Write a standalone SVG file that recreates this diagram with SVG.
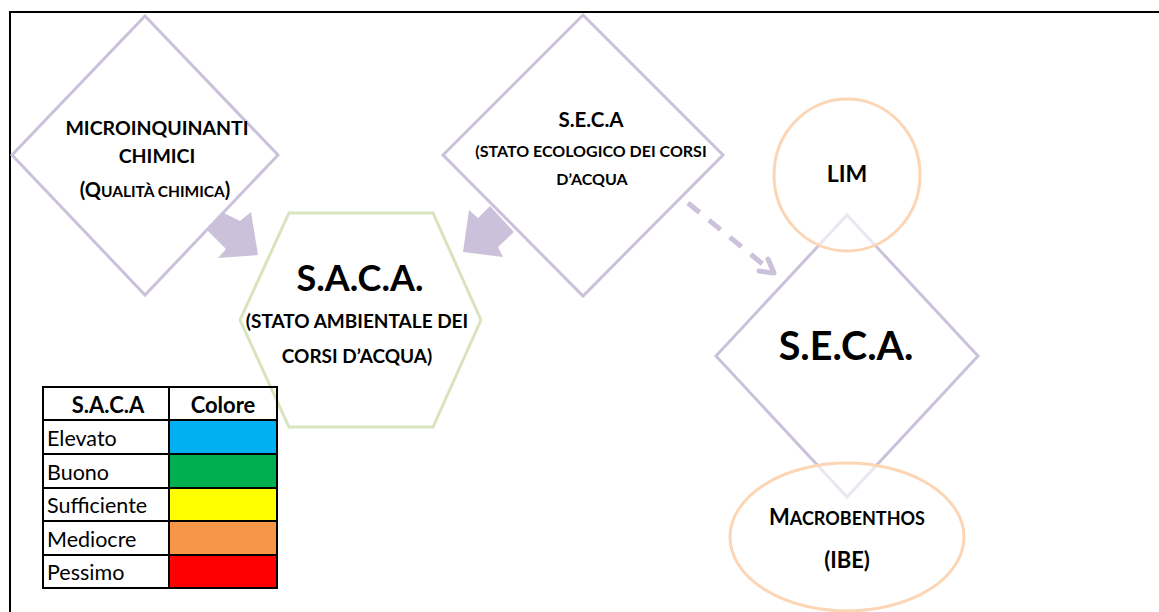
<svg xmlns="http://www.w3.org/2000/svg" width="1159" height="612" viewBox="0 0 1159 612">
  <style>
    .frame { stroke: #000; stroke-width: 2; fill: none; }
    .diamond { fill: #fff; stroke: #ccc1da; stroke-width: 3; }
    .hex { fill: #fff; stroke: #d7e4bd; stroke-width: 3; }
    .ring { fill: #fff; fill-opacity: 0.6; stroke: #fcd5b5; stroke-width: 3; }
    .block { fill: #ccc1da; }
    .dash { fill: none; stroke: #ccc1da; stroke-width: 5; stroke-dasharray: 15 12; }
    .head { fill: none; stroke: #ccc1da; stroke-width: 5; stroke-linecap: round; stroke-linejoin: round; }
    text { font-family: Lato, "Liberation Sans", sans-serif; fill: #000; text-anchor: middle; }
    .b { font-weight: bold; }
    .cell { stroke: #000; stroke-width: 2; }
    .lbl { text-anchor: start; font-size: 21.5px; }
  </style>

  <!-- page frame (top and left edges) -->
  <path class="frame" d="M10 612 V12 H1159"/>

  <!-- connectors -->
  <g id="connectors">
    <polygon class="block" points="222,212 240,221 251,212 258,255 218,258 226,249 207,230"/>
    <polygon class="block" points="490,206 514,232 498,247 503,257 463,252 469,210 478,218"/>
    <line class="dash" x1="688" y1="203" x2="770" y2="270"/>
    <polyline class="head" points="768,259 774,273 759,271"/>
  </g>

  <!-- MICROINQUINANTI CHIMICI -->
  <g id="node-micro">
    <polygon class="diamond" points="145,16 278,155 145,295 12,155"/>
    <text class="b" x="157" y="135" font-size="19.5">MICROINQUINANTI</text>
    <text class="b" x="157" y="163" font-size="19.5">CHIMICI</text>
    <text class="b" x="155" y="197" font-size="20">(Q<tspan font-size="15.5">UALITÀ CHIMICA</tspan>)</text>
  </g>

  <!-- S.E.C.A (upper) -->
  <g id="node-seca-top">
    <polygon class="diamond" points="583,15 723,155 583,296 443,155"/>
    <text class="b" x="591" y="127" font-size="20.5">S.E.C.A</text>
    <text class="b" x="591" y="157" font-size="16">(STATO ECOLOGICO DEI CORSI</text>
    <text class="b" x="592" y="185" font-size="16">D’ACQUA</text>
  </g>

  <!-- S.A.C.A. hexagon -->
  <g id="node-saca">
    <polygon class="hex" points="289,213 433,213 481,320 433,427 289,427 240,320"/>
    <text class="b" x="360" y="291" font-size="36">S.A.C.A.</text>
    <text class="b" x="357" y="328" font-size="19">(STATO AMBIENTALE DEI</text>
    <text class="b" x="357" y="363" font-size="19">CORSI D’ACQUA)</text>
  </g>

  <!-- S.E.C.A. (large) -->
  <g id="node-seca">
    <polygon class="diamond" points="847,215 978,356 847,497 716,356"/>
    <text class="b" x="846" y="360" font-size="39.5">S.E.C.A.</text>
  </g>

  <!-- LIM -->
  <g id="node-lim">
    <ellipse class="ring" cx="847" cy="175" rx="73" ry="76"/>
    <text class="b" x="847" y="182" font-size="23">LIM</text>
  </g>

  <!-- Macrobenthos (IBE) -->
  <g id="node-ibe">
    <ellipse class="ring" cx="847" cy="537" rx="117" ry="74"/>
    <text class="b" x="847" y="525" font-size="22">M<tspan font-size="18">ACROBENTHOS</tspan></text>
    <text class="b" x="847" y="568" font-size="22">(IBE)</text>
  </g>

  <!-- S.A.C.A colour legend -->
  <g id="legend">
    <rect x="169" y="420" width="108" height="34" fill="#00b0f0"/>
    <rect x="169" y="454" width="108" height="34" fill="#00b050"/>
    <rect x="169" y="488" width="108" height="33" fill="#ffff00"/>
    <rect x="169" y="521" width="108" height="34" fill="#f79646"/>
    <rect x="169" y="555" width="108" height="33" fill="#ff0000"/>
    <rect class="cell" x="43" y="387" width="234" height="201" fill="none"/>
    <line class="cell" x1="169" y1="387" x2="169" y2="588"/>
    <line class="cell" x1="43" y1="420" x2="277" y2="420"/>
    <line class="cell" x1="43" y1="454" x2="277" y2="454"/>
    <line class="cell" x1="43" y1="488" x2="277" y2="488"/>
    <line class="cell" x1="43" y1="521" x2="277" y2="521"/>
    <line class="cell" x1="43" y1="555" x2="277" y2="555"/>
    <text class="b" x="108" y="413" font-size="22">S.A.C.A</text>
    <text class="b" x="223" y="413" font-size="22">Colore</text>
    <text class="lbl" x="47" y="446">Elevato</text>
    <text class="lbl" x="47" y="480">Buono</text>
    <text class="lbl" x="47" y="513">Sufficiente</text>
    <text class="lbl" x="47" y="547">Mediocre</text>
    <text class="lbl" x="47" y="580">Pessimo</text>
  </g>
</svg>
